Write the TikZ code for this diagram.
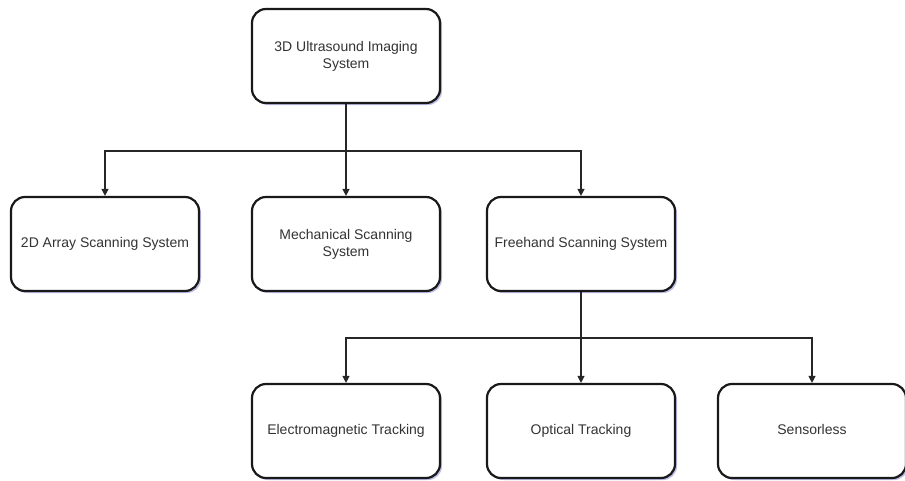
\documentclass[tikz,border=0pt]{standalone}
\usepackage{fontspec}
\setmainfont{Liberation Sans}
\usetikzlibrary{arrows.meta, shadows, positioning}

\begin{document}
\begin{tikzpicture}[node distance=236pt]

        % Define styles for the boxes
        \tikzstyle{box} = [rectangle, rounded corners=14pt, minimum width=188pt, minimum height=94pt, inner sep=0pt, align=center, text centered, draw=black!90, line width=2.2pt, fill=white, text=black!80, font=\fontsize{14}{17}\selectfont, drop shadow={shadow xshift=2pt, shadow yshift=-2pt, fill=blue!50!gray, opacity=0.35}]

        % Define arrow style
        \tikzstyle{arrow} = [draw=black!85, line width=1.3pt, -{Triangle[width=7pt,length=7pt]}]

        \useasboundingbox (0,0) rectangle (905pt,-480pt);

        % Nodes
        \node (system) [box] at (346pt,-56pt) {3D Ultrasound Imaging\\System};

        % Tipos de escaneo
        \node (mechanical) [box, below of=system, node distance=188pt] {Mechanical Scanning\\System};
        \node (array) [box, left of=mechanical, node distance=241pt] {2D Array Scanning System};
        \node (freehand) [box, right of=mechanical, node distance=235pt] {Freehand Scanning System};

        % Tipos de seguimiento
        \node (optical) [box, below of=freehand, node distance=187pt] {Optical Tracking};
        \node (electro) [box, left of=optical, node distance=235pt] {Electromagnetic Tracking};
        \node (sensorless) [box, right of=optical, node distance=231pt] {\strut Sensorless};

        % Arrows
        \draw [arrow] (system.south) -- ++(0,-47pt) -| (array.north);
        \draw [arrow] (system.south) -- (mechanical.north);
        \draw [arrow] (system.south) -- ++(0,-47pt) -| (freehand.north);

        \draw [arrow] (freehand.south) -- ++(0,-46pt) -| (electro.north);
        \draw [arrow] (freehand.south) -- (optical.north);
        \draw [arrow] (freehand.south) -- ++(0,-46pt) -| (sensorless.north);

    \end{tikzpicture}
\end{document}
